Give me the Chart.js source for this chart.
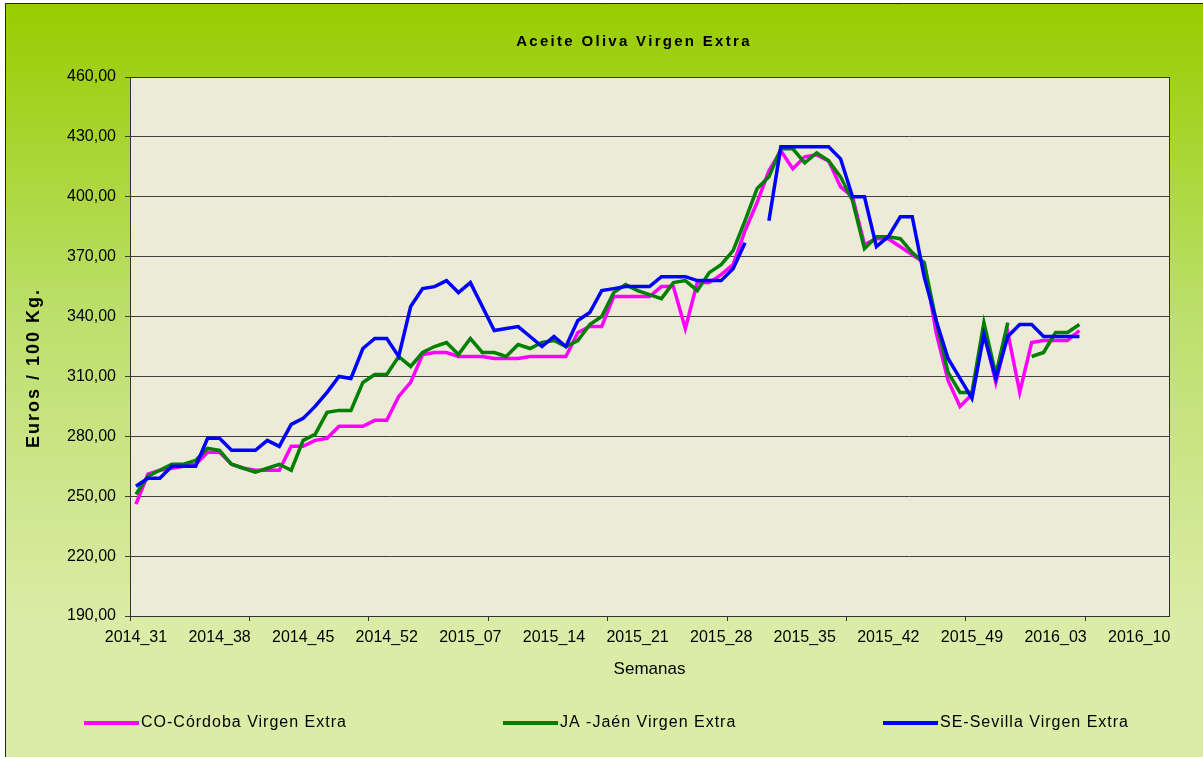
<!DOCTYPE html>
<html lang="es">
<head>
<meta charset="utf-8">
<title>Aceite Oliva Virgen Extra</title>
<script src="https://cdn.jsdelivr.net/npm/chart.js@4.4.1/dist/chart.umd.min.js"></script>
<style>
  html, body { margin: 0; padding: 0; background: #fff; }
  #chart { display: block; }
</style>
</head>
<body>
<canvas id="chart" width="1203" height="757"></canvas>
<script>
// Weeks (year_week) on the category axis
const weeks = [
  '2014_31', '2014_32', '2014_33', '2014_34', '2014_35', '2014_36', '2014_37', '2014_38', '2014_39', '2014_40', '2014_41',
  '2014_42', '2014_43', '2014_44', '2014_45', '2014_46', '2014_47', '2014_48', '2014_49', '2014_50', '2014_51', '2014_52',
  '2015_01', '2015_02', '2015_03', '2015_04', '2015_05', '2015_06', '2015_07', '2015_08', '2015_09', '2015_10', '2015_11',
  '2015_12', '2015_13', '2015_14', '2015_15', '2015_16', '2015_17', '2015_18', '2015_19', '2015_20', '2015_21', '2015_22',
  '2015_23', '2015_24', '2015_25', '2015_26', '2015_27', '2015_28', '2015_29', '2015_30', '2015_31', '2015_32', '2015_33',
  '2015_34', '2015_35', '2015_36', '2015_37', '2015_38', '2015_39', '2015_40', '2015_41', '2015_42', '2015_43', '2015_44',
  '2015_45', '2015_46', '2015_47', '2015_48', '2015_49', '2015_50', '2015_51', '2015_52', '2015_53', '2016_01', '2016_02',
  '2016_03', '2016_04', '2016_05', '2016_06', '2016_07', '2016_08', '2016_09', '2016_10', '2016_11', '2016_12'
];

// Euros / 100 Kg, one value per week (null = no quotation)
const cordoba = [
  246, 261, 263, 264, 265, 266, 272, 272, 266, 264, 263, 263, 263, 275, 275, 278, 279, 285, 285, 285,
  288, 288, 300, 307, 321, 322, 322, 320, 320, 320, 319, 319, 319, 320, 320, 320, 320, 332, 335, 335,
  350, 350, 350, 350, 355, 355, 334, 357, 357, 361, 366, 383, 397, 413, 423, 414, 420, 421, 418, 405,
  400, 376, 379, 379, 375, 371, 367, 332, 308, 295, 301, 332, 307, 332, 302, 327, 328, 328, 328, 333
];
const jaen = [
  251, 260, 263, 266, 266, 268, 274, 273, 266, 264, 262, 264, 266, 263, 278, 281, 292, 293, 293, 307,
  311, 311, 320, 315, 322, 325, 327, 321, 329, 322, 322, 320, 326, 324, 327, 328, 325, 328, 336, 340,
  352, 356, 353, 351, 349, 357, 358, 353, 362, 366, 373, 388, 404, 410, 424, 424, 417, 422, 418, 410,
  398, 374, 380, 380, 379, 372, 367, 338, 312, 302, 302, 337, 311, 337, null, 320, 322, 332, 332, 336
];
const sevilla = [
  255, 259, 259, 265, 265, 265, 279, 279, 273, 273, 273, 278, 275, 286, 289, 295, 302, 310, 309, 324,
  329, 329, 320, 345, 354, 355, 358, 352, 357, 345, 333, 334, 335, 330, 325, 330, 325, 338, 342, 353,
  354, 355, 355, 355, 360, 360, 360, 358, 358, 358, 364, 377, null, 388, 425, 425, 425, 425, 425, 419,
  400, 400, 375, 380, 390, 390, 360, 338, 319, 309, 299, 331, 309, 330, 336, 336, 330, 330, 330, 330
];

const seriesNames = ['CO-Córdoba Virgen Extra', 'JA -Jaén Virgen Extra', 'SE-Sevilla Virgen Extra'];
const seriesColors = ['#ff00ff', '#008000', '#0000ff'];

const FONT = '"Liberation Sans", Arial, sans-serif';

// Background, plot frame, title, y title and legend
const decorations = {
  id: 'decorations',
  beforeDraw(chart) {
    const { ctx, width, height, chartArea: a } = chart;
    ctx.save();
    ctx.fillStyle = '#ffffff';
    ctx.fillRect(0, 0, width, height);
    const g = ctx.createLinearGradient(0, 3, 0, 630);
    g.addColorStop(0, '#99cc00');
    g.addColorStop(0.5, '#bddf6c');
    g.addColorStop(1, '#dbeca7');
    ctx.fillStyle = g;
    ctx.fillRect(5, 3, width - 5, height - 3);
    ctx.strokeStyle = '#222';
    ctx.lineWidth = 1;
    ctx.beginPath();
    ctx.moveTo(5.5, height);
    ctx.lineTo(5.5, 3.5);
    ctx.lineTo(width, 3.5);
    ctx.stroke();
    ctx.fillStyle = '#ebebd7';
    ctx.fillRect(a.left, a.top, a.right - a.left, a.bottom - a.top);
    ctx.restore();
  },
  afterDraw(chart) {
    const { ctx, chartArea: a } = chart;
    ctx.save();
    ctx.strokeStyle = '#333';
    ctx.lineWidth = 1;
    ctx.strokeRect(Math.round(a.left) + 0.5, Math.round(a.top) + 0.5,
      Math.round(a.right - a.left), Math.round(a.bottom - a.top));

    ctx.fillStyle = '#000';
    ctx.textBaseline = 'middle';

    // main title
    ctx.font = 'bold 15px ' + FONT;
    ctx.letterSpacing = '2.3px';
    ctx.textAlign = 'center';
    ctx.fillText('Aceite Oliva Virgen Extra', 634, 42);

    // y axis title
    ctx.save();
    ctx.translate(34, 368);
    ctx.rotate(-Math.PI / 2);
    ctx.font = 'bold 18px ' + FONT;
    ctx.letterSpacing = '2px';
    ctx.fillText('Euros / 100 Kg.', 0, 0);
    ctx.restore();

    // legend
    ctx.letterSpacing = '1px';
    ctx.font = '16px ' + FONT;
    ctx.textAlign = 'left';
    const starts = [84, 503, 883];
    chart.data.datasets.forEach((ds, i) => {
      const x = starts[i];
      ctx.strokeStyle = ds.borderColor;
      ctx.lineWidth = 4;
      ctx.beginPath();
      ctx.moveTo(x, 723);
      ctx.lineTo(x + 55, 723);
      ctx.stroke();
      ctx.fillText(ds.label, x + 57, 723);
    });
    ctx.restore();
  }
};

const makeDataset = (i, values, order) => ({
  label: seriesNames[i],
  data: values,
  borderColor: seriesColors[i],
  backgroundColor: seriesColors[i],
  borderWidth: 3.5,
  pointRadius: 0,
  tension: 0,
  spanGaps: false,
  order: order
});

new Chart(document.getElementById('chart'), {
  type: 'line',
  data: {
    labels: weeks,
    datasets: [
      makeDataset(0, cordoba, 3),
      makeDataset(1, jaen, 2),
      makeDataset(2, sevilla, 1)
    ]
  },
  options: {
    responsive: false,
    animation: false,
    events: [],
    layout: { padding: { left: 24, top: 77, right: 34, bottom: 77 } },
    plugins: {
      legend: { display: false },
      title: { display: false },
      tooltip: { enabled: false }
    },
    scales: {
      x: {
        type: 'category',
        offset: true,
        afterFit: (scale) => { scale.height = 64; },
        grid: {
          offset: true,
          drawOnChartArea: false,
          tickLength: 5,
          color: (c) => (c.index !== undefined && c.index % 10 === 0) ? '#333' : 'rgba(0,0,0,0)'
        },
        border: { color: '#333', width: 1 },
        ticks: {
          autoSkip: false,
          maxRotation: 0,
          minRotation: 0,
          padding: 7,
          color: '#000',
          font: { family: FONT, size: 16 },
          callback: (value, index) => (index % 7 === 0 ? weeks[index] : '')
        },
        title: {
          display: true,
          text: 'Semanas',
          color: '#000',
          font: { family: FONT, size: 17 },
          padding: { top: 0, bottom: 0 }
        }
      },
      y: {
        min: 190,
        max: 460,
        afterFit: (scale) => { scale.width = 106; },
        grid: { color: '#404040', lineWidth: 1, tickLength: 5 },
        border: { color: '#333', width: 1 },
        ticks: {
          stepSize: 30,
          padding: 9,
          color: '#000',
          font: { family: FONT, size: 16 },
          callback: (value) => value.toFixed(2).replace('.', ',')
        }
      }
    }
  },
  plugins: [decorations]
});
</script>
</body>
</html>
